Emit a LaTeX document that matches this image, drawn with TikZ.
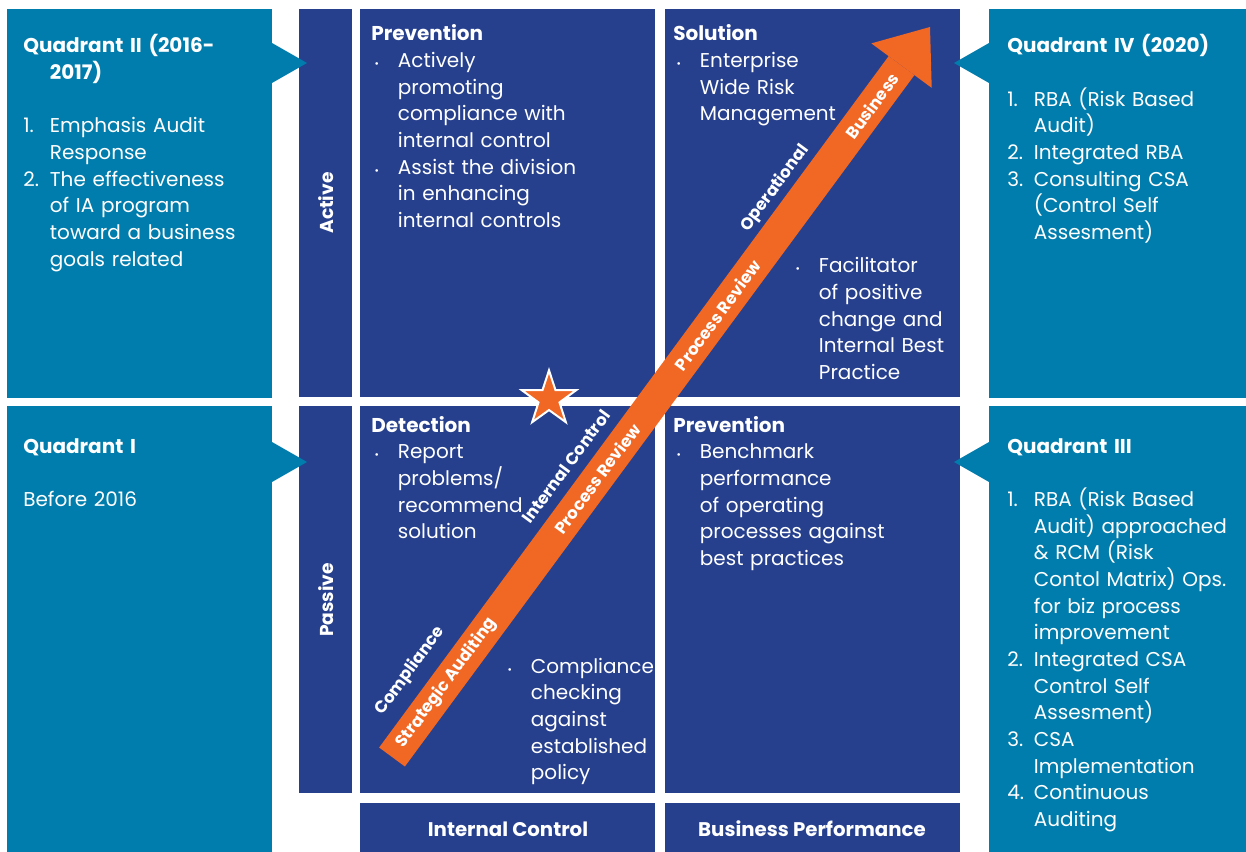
\documentclass[tikz,border=0pt]{standalone}
\usepackage{fontspec}
\setmainfont{Poppins}
\usetikzlibrary{shapes.geometric, arrows.meta, positioning, calc}

\definecolor{quadteal}{RGB}{0,125,172}
\definecolor{gridnavy}{RGB}{38,64,142}
\definecolor{trendorange}{RGB}{241,103,36}

% list entry: label box, wrapped lines hang under the text
\newcommand{\hitem}[1]{\hangindent=20pt\hangafter=1\makebox[20pt][l]{#1}\ignorespaces}
\newcommand{\hhead}{\hangindent=20pt\hangafter=1\relax}
\newcommand{\bul}{\hspace{2.5pt}{\footnotesize\textbullet}}

\begin{document}
\begin{tikzpicture}[
    x=0.75pt, y=-0.75pt,
    quadbox/.style={fill=quadteal},
    cellbox/.style={fill=gridnavy},
    qtext/.style={
        anchor=base west,
        inner sep=0pt,
        text width=240pt,
        align=left,
        text=white,
        font=\fontsize{15}{20}\selectfont
    },
    axislabel/.style={
        rotate=90,
        inner sep=0pt,
        text=white,
        font=\fontsize{14}{17}\selectfont\bfseries
    },
    footlabel/.style={
        inner sep=0pt,
        text=white,
        font=\fontsize{14.8}{17}\selectfont\bfseries
    },
    trend/.style={
        draw=trendorange,
        line width=24pt,
        -{Triangle[length=36pt, width=56.25pt, line width=0pt]}
    },
    trendlabel/.style={
        inner sep=0pt,
        text=white,
        transform shape,
        font=\fontsize{12.5}{14}\selectfont\bfseries
    }
]
\useasboundingbox (0,0) rectangle (1246,852);

% Quadrant panels
\fill[quadbox] (7,9) rectangle (272,398);
\fill[quadbox] (7,406) rectangle (272,852);
\fill[quadbox] (989,9) rectangle (1246,398);
\fill[quadbox] (989,406) rectangle (1246,852);

% Axis bars
\fill[cellbox] (299,9) rectangle (352,397);
\fill[cellbox] (299,406) rectangle (352,793);

% Matrix cells
\fill[cellbox] (360,9) rectangle (655,397);
\fill[cellbox] (665,9) rectangle (960,397);
\fill[cellbox] (360,406) rectangle (655,793);
\fill[cellbox] (665,406) rectangle (960,793);
\fill[cellbox] (360,803) rectangle (655,852);
\fill[cellbox] (665,803) rectangle (960,852);

% Pointers
\fill[quadbox] (272,43) -- (307,63) -- (272,83) -- cycle;
\fill[quadbox] (272,442) -- (307,462) -- (272,482) -- cycle;
\fill[quadbox] (989,43) -- (954,63) -- (989,83) -- cycle;
\fill[quadbox] (989,442) -- (954,462) -- (989,482) -- cycle;

% Left side
\node (qtwo) [qtext] at (23,53) {\hhead\textbf{Quadrant II (2016-\newline 2017)}\par\vspace{20pt}
    \hitem{1.}Emphasis Audit\newline Response\par
    \hitem{2.}The effectiveness\newline of IA program\newline toward a business\newline goals related\par};
\node (qone) [qtext] at (23,453) {\textbf{Quadrant I}\par\vspace{20pt}Before 2016\par};

% Right side
\node (qfour) [qtext] at (1007,53) {\textbf{Quadrant IV (2020)}\par\vspace{20pt}
    \hitem{1.}RBA (Risk Based\newline Audit)\par
    \hitem{2.}Integrated RBA\par
    \hitem{3.}Consulting CSA\newline (Control Self\newline Assesment)\par};
\node (qthree) [qtext] at (1007,453) {\textbf{Quadrant III}\par\vspace{20pt}
    \hitem{1.}RBA (Risk Based\newline Audit) approached\newline \& RCM (Risk\newline Contol Matrix) Ops.\newline for biz process\newline improvement\par
    \hitem{2.}Integrated CSA\newline Control Self\newline Assesment)\par
    \hitem{3.}CSA\newline Implementation\par
    \hitem{4.}Continuous\newline Auditing\par};

% Matrix cells text
\node (prevtop) [qtext] at (371,41) {\textbf{Prevention}\par
    \hitem{\bul}Actively\newline promoting\newline compliance with\newline internal control\par
    \hitem{\bul}Assist the division\newline in enhancing\newline internal controls\par};
\node (soltop) [qtext] at (673,41) {\textbf{Solution}\par
    \hitem{\bul}Enterprise\newline Wide Risk\newline Management\par};
\node (factop) [qtext] at (792,273) {\hitem{\bul}Facilitator\newline of positive\newline change and\newline Internal Best\newline Practice\par};
\node (detbot) [qtext] at (371,432) {\textbf{Detection}\par
    \hitem{\bul}Report\newline problems/\newline recommend\newline solution\par};
\node (compbot) [qtext] at (504,673) {\hitem{\bul}Compliance\newline checking\newline against\newline established\newline policy\par};
\node (prevbot) [qtext] at (673,432) {\textbf{Prevention}\par
    \hitem{\bul}Benchmark\newline performance\newline of operating\newline processes against\newline best practices\par};

% Axis labels
\node (active) [axislabel] at (326,203) {Active};
\node (passive) [axislabel] at (326,600) {Passive};
\node (icfoot) [footlabel] at (508,829) {Internal Control};
\node (bpfoot) [footlabel] at (812,829) {Business Performance};

% Trend arrow
\coordinate (trendtail) at (392,757);
\coordinate (trendtip) at (930,27);
\draw [trend] (trendtail) -- (trendtip);

\begin{scope}[shift={(trendtail)}, rotate=53.6]
    \node (compl) [trendlabel] at (80,-36.5) {Compliance};
    \node (strat) [trendlabel] at (92,0) {Strategic Auditing};
    \node (intctl) [trendlabel] at (337,-32) {Internal Control};
    \node (procone) [trendlabel] at (346,0) {Process Review};
    \node (proctwo) [trendlabel] at (549,0) {Process Review};
    \node (oper) [trendlabel] at (685,-29) {Operational};
    \node (busi) [trendlabel] at (809,0) {Business};
\end{scope}

% Star
\node (starmark) [star, star points=5, star point ratio=2.6, minimum size=43pt, inner sep=0pt,
    fill=trendorange, draw=white, line width=1.5pt] at (549,399) {};

\end{tikzpicture}
\end{document}
